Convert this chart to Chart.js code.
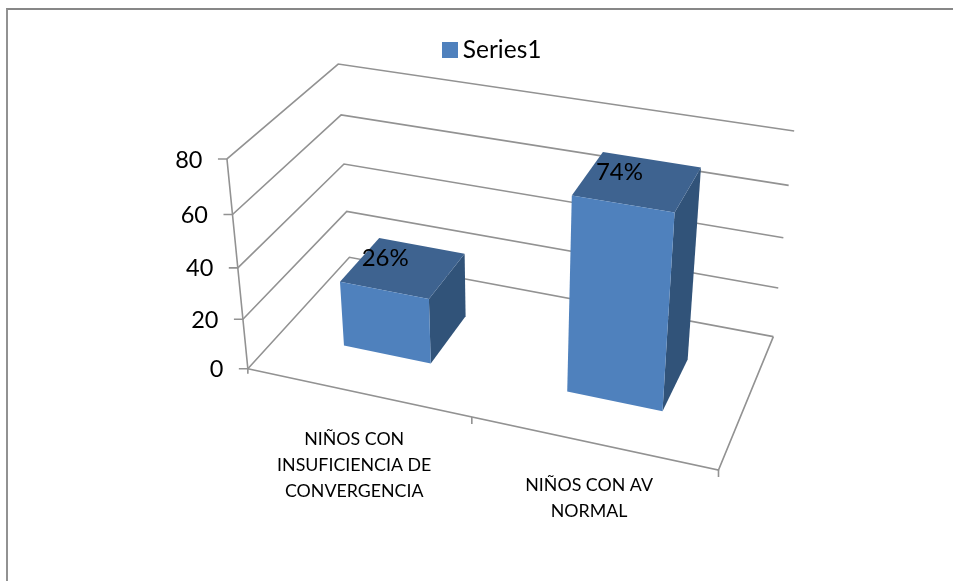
<!DOCTYPE html>
<html>
<head>
<meta charset="utf-8">
<title>Series1</title>
<script src="https://cdn.jsdelivr.net/npm/chart.js@4/dist/chart.umd.min.js"></script>
<style>
  html, body { margin: 0; padding: 0; background: #fff; overflow: hidden; }
  #frame { position: absolute; left: 6px; top: 8px; width: 947px; height: 573px;
           border-left: 2px solid #929292; border-top: 2px solid #878787; box-sizing: border-box; }
  #grafico { position: absolute; left: 0; top: 0; }
</style>
</head>
<body>
<div id="frame"></div>
<canvas id="grafico" width="953" height="581"></canvas>
<script>
// datos del grafico
const categories = [
  ['NIÑOS CON', 'INSUFICIENCIA DE', 'CONVERGENCIA'],
  ['NIÑOS CON AV', 'NORMAL']
];
const seriesName = 'Series1';
const seriesValues = [26, 74];
const valueTicks = [0, 20, 40, 60, 80];

const FONT = 'Lato, "Open Sans", sans-serif';
const COLOR_FRONT = '#4f81bd';
const COLOR_TOP = '#3e6390';
const COLOR_SIDE = '#315379';
const COLOR_AXIS = '#929292';

// profundidad de las barras dentro del suelo (0 = borde frontal, 1 = pared del fondo)
const BAR_NEAR = 0.3;
const BAR_FAR = 0.7;

// camara: puntos de la caja (u, h, d) y donde caen en pantalla
const cameraRefs = [
  [0, 0, 0, 247.7, 369], [0, 0.25, 0, 243.3, 318.7], [0, 0.5, 0, 238.3, 267.7], [0, 0.75, 0, 232.3, 214.3], [0, 1, 0, 226.7, 159],
  [0, 0, 1, 349.3, 257.3], [0, 0.25, 1, 346.7, 211.7], [0, 0.5, 1, 344, 164], [0, 0.75, 1, 341, 115], [0, 1, 1, 338.3, 64],
  [1, 0, 1, 773.3, 336], [1, 0.25, 1, 778.3, 288], [1, 0.5, 1, 783.7, 237.7], [1, 0.75, 1, 788.7, 185.7], [1, 1, 1, 794, 131],
  [1, 0, 0, 718.3, 470], [0.5, 0, 0, 471.7, 417.7]
];

// resuelve A x = b por eliminacion gaussiana
function solveLinear(A, b) {
  const n = b.length;
  const M = A.map((row, i) => [...row, b[i]]);
  for (let c = 0; c < n; c++) {
    let best = c;
    for (let r = c + 1; r < n; r++) {
      if (Math.abs(M[r][c]) > Math.abs(M[best][c])) best = r;
    }
    [M[c], M[best]] = [M[best], M[c]];
    for (let r = 0; r < n; r++) {
      if (r === c) continue;
      const f = M[r][c] / M[c][c];
      for (let k = c; k <= n; k++) M[r][k] -= f * M[c][k];
    }
  }
  return M.map((row, i) => row[n] / row[i]);
}

// ajusta la matriz de proyeccion 3x4 por minimos cuadrados
function fitCamera(refs) {
  const rows = [], rhs = [];
  for (const [u, h, d, px, py] of refs) {
    const x = px / 1000, y = py / 1000;
    rows.push([u, h, d, 1, 0, 0, 0, 0, -x * u, -x * h, -x * d]);
    rhs.push(x);
    rows.push([0, 0, 0, 0, u, h, d, 1, -y * u, -y * h, -y * d]);
    rhs.push(y);
  }
  const size = 11;
  const AtA = Array.from({ length: size }, () => new Array(size).fill(0));
  const Atb = new Array(size).fill(0);
  rows.forEach((row, r) => {
    for (let i = 0; i < size; i++) {
      Atb[i] += row[i] * rhs[r];
      for (let j = 0; j < size; j++) AtA[i][j] += row[i] * row[j];
    }
  });
  return solveLinear(AtA, Atb);
}

const cam = fitCamera(cameraRefs);

function project(u, h, d) {
  const w = cam[8] * u + cam[9] * h + cam[10] * d + 1;
  return {
    x: 1000 * (cam[0] * u + cam[1] * h + cam[2] * d + cam[3]) / w,
    y: 1000 * (cam[4] * u + cam[5] * h + cam[6] * d + cam[7]) / w
  };
}

function strokePath(ctx, pts) {
  ctx.beginPath();
  pts.forEach((p, i) => (i ? ctx.lineTo(p.x, p.y) : ctx.moveTo(p.x, p.y)));
  ctx.stroke();
}

function fillFace(ctx, pts, color) {
  ctx.fillStyle = color;
  ctx.beginPath();
  pts.forEach((p, i) => (i ? ctx.lineTo(p.x, p.y) : ctx.moveTo(p.x, p.y)));
  ctx.closePath();
  ctx.fill();
}

// cuadrado de la leyenda; se pasa como pointStyle para dejarlo pegado al texto
function legendSwatch() {
  const swatch = document.createElement('canvas');
  swatch.width = 16;
  swatch.height = 16;
  const c = swatch.getContext('2d');
  c.fillStyle = COLOR_FRONT;
  c.fillRect(0, 0, 16, 16);
  return swatch;
}

// paredes, suelo, marcas y textos de los ejes
function drawBox(chart) {
  const ctx = chart.ctx;
  const yScale = chart.scales.y;
  const xScale = chart.scales.x;
  const area = chart.chartArea;

  ctx.save();
  ctx.strokeStyle = COLOR_AXIS;
  ctx.lineWidth = 1.6;
  ctx.fillStyle = '#000';
  ctx.font = '23.5px ' + FONT;
  ctx.textBaseline = 'middle';
  ctx.textAlign = 'right';

  yScale.ticks.forEach(tick => {
    const h = (area.bottom - yScale.getPixelForValue(tick.value)) / area.height;
    const front = project(0, h, 0);
    strokePath(ctx, [{ x: front.x - 9, y: front.y }, front, project(0, h, 1), project(1, h, 1)]);
    ctx.fillText(tick.label, front.x - 24.5, front.y + 1);
  });

  // eje vertical y contorno del suelo
  strokePath(ctx, [project(0, 1, 0), project(0, 0, 0), { x: project(0, 0, 0).x, y: project(0, 0, 0).y + 5 }]);
  strokePath(ctx, [project(0, 0, 0), project(1, 0, 0), project(1, 0, 1)]);

  // marcas entre categorias
  [0.5, 1].forEach(u => {
    const p = project(u, 0, 0);
    strokePath(ctx, [p, { x: p.x, y: p.y + 7 }]);
  });

  // nombres de categoria, una linea por fila
  ctx.font = '17.8px ' + FONT;
  ctx.textAlign = 'center';
  categories.forEach((lines, i) => {
    const u = (xScale.getPixelForValue(i) - area.left) / area.width;
    const p = project(u, 0, 0);
    lines.forEach((line, n) => {
      ctx.fillText(line, p.x - 3, p.y + 49.5 - 10 * u + n * 26);
    });
  });
  ctx.restore();
}

// cada barra sale de la posicion que le da chart.js en sus escalas
function drawBars(chart) {
  const ctx = chart.ctx;
  const area = chart.chartArea;
  const meta = chart.getDatasetMeta(0);

  meta.data.forEach(bar => {
    const u0 = (bar.x - bar.width / 2 - area.left) / area.width;
    const u1 = (bar.x + bar.width / 2 - area.left) / area.width;
    const h = (area.bottom - bar.y) / area.height;

    fillFace(ctx, [project(u1, 0, BAR_NEAR), project(u1, 0, BAR_FAR), project(u1, h, BAR_FAR), project(u1, h, BAR_NEAR)], COLOR_SIDE);
    fillFace(ctx, [project(u0, h, BAR_NEAR), project(u1, h, BAR_NEAR), project(u1, h, BAR_FAR), project(u0, h, BAR_FAR)], COLOR_TOP);
    fillFace(ctx, [project(u0, 0, BAR_NEAR), project(u1, 0, BAR_NEAR), project(u1, h, BAR_NEAR), project(u0, h, BAR_NEAR)], COLOR_FRONT);
  });

  ctx.save();
  ctx.fillStyle = '#000';
  ctx.font = '24px ' + FONT;
  ctx.textAlign = 'center';
  ctx.textBaseline = 'middle';
  meta.data.forEach((bar, i) => {
    const u = (bar.x - area.left) / area.width;
    const h = (area.bottom - bar.y) / area.height;
    const p = project(u, h, (BAR_NEAR + BAR_FAR) / 2);
    ctx.fillText(seriesValues[i] + '%', p.x - 18, p.y - 9);
  });
  ctx.restore();
}

const bars3d = {
  id: 'bars3d',
  beforeDatasetsDraw(chart) {
    drawBox(chart);
    drawBars(chart);
    return false;
  }
};

new Chart(document.getElementById('grafico'), {
  type: 'bar',
  data: {
    labels: categories,
    datasets: [{
      label: seriesName,
      data: seriesValues,
      backgroundColor: COLOR_FRONT,
      barPercentage: 0.4,
      categoryPercentage: 1
    }]
  },
  options: {
    responsive: false,
    animation: false,
    events: [],
    layout: { padding: { top: 33, left: 38 } },
    scales: {
      x: { display: false },
      y: {
        display: false,
        min: valueTicks[0],
        max: valueTicks[valueTicks.length - 1],
        ticks: { stepSize: valueTicks[1] - valueTicks[0] }
      }
    },
    plugins: {
      tooltip: { enabled: false },
      legend: {
        position: 'top',
        labels: {
          usePointStyle: true,
          pointStyle: legendSwatch(),
          pointStyleWidth: 1,
          boxHeight: 16,
          padding: 5,
          color: '#000',
          font: { family: FONT, size: 24.5 }
        }
      }
    }
  },
  plugins: [bars3d]
});
</script>
</body>
</html>
